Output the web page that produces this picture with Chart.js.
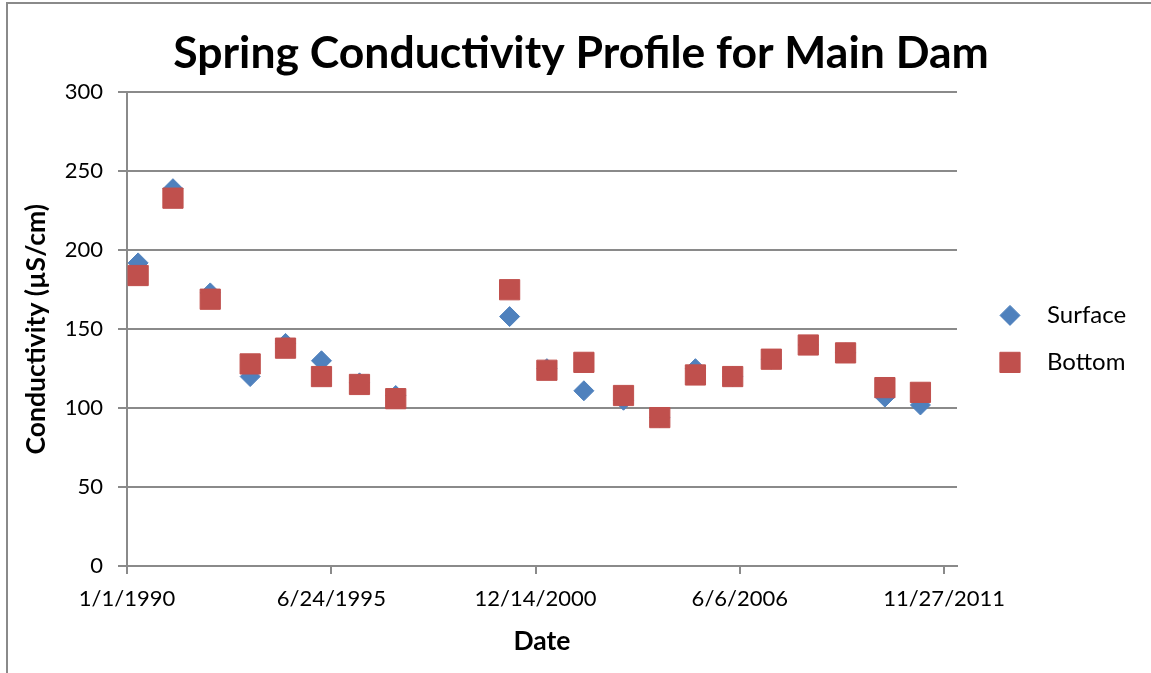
<!DOCTYPE html>
<html>
<head>
<meta charset="utf-8">
<title>Spring Conductivity Profile for Main Dam</title>
<script src="https://cdn.jsdelivr.net/npm/chart.js"></script>
<style>
  html, body { margin: 0; padding: 0; background: #fff; overflow: hidden; }
  #wrap { position: relative; width: 1151px; height: 673px; }
  #frame { position: absolute; left: 6px; top: 2px; width: 1200px; height: 700px;
           border-left: 2px solid #8a8a8a; border-top: 2px solid #8a8a8a; pointer-events: none; }
</style>
</head>
<body>
<div id="wrap">
  <canvas id="chartviewport" width="1151" height="673"></canvas>
  <div id="frame"></div>
</div>
<script>
// spring sampling dates (one per year, 1998-1999 missing)
const sampleDates = [
  '1990-04-20', '1991-03-27', '1992-03-26', '1993-04-21', '1994-04-02',
  '1995-03-20', '1996-03-26', '1997-03-16', '2000-04-04', '2001-04-04',
  '2002-04-01', '2003-04-24', '2004-04-13', '2005-03-28', '2006-03-28',
  '2007-04-10', '2008-04-06', '2009-04-06', '2010-04-26', '2011-04-09'
];
const surfaceValues = [192, 239, 173, 120, 141, 130, 116, 108, 158, 125, 111, 105, 94, 125, 120, 131, 140, 135, 107, 102];
const bottomValues  = [184, 233, 169, 128, 138, 120, 115, 106, 175, 124, 129, 108, 94, 121, 120, 131, 140, 135, 113, 110];

// x axis runs in days since 1/1/1990
const dateTickDays   = [0, 2000, 4000, 6000, 8000];
const dateTickLabels = ['1/1/1990', '6/24/1995', '12/14/2000', '6/6/2006', '11/27/2011'];
const dateAxisMax = 8126;
const yTicks = [0, 50, 100, 150, 200, 250, 300];

const FONT = 'Lato';
const AXIS_GREY = '#8a8a8a';

function toDays(s) {
    const p = s.split('-').map(Number);
    return (Date.UTC(p[0], p[1] - 1, p[2]) - Date.UTC(1990, 0, 1)) / 86400000;
}
function points(values) {
    return values.map((v, i) => ({ x: toDays(sampleDates[i]), y: v }));
}

// Excel style legend, added as a layout box on the right of the plot
const sideLegend = {
    id: 'sideLegend',
    beforeInit(chart) {
        const box = {
            position: 'right',
            weight: 1000,
            fullSize: false,
            options: {},
            top: 0, left: 0, right: 0, bottom: 0, width: 0, height: 0,
            isHorizontal() { return false; },
            update(maxWidth, maxHeight) { this.width = 194; this.height = maxHeight; },
            draw() {
                const ctx = chart.ctx;
                const area = chart.chartArea;
                const rows = [area.top + 223, area.top + 270];
                ctx.save();
                chart.data.datasets.forEach((ds, i) => {
                    const y = rows[i];
                    ctx.fillStyle = ds.backgroundColor;
                    ctx.strokeStyle = ds.borderColor;
                    ctx.lineWidth = ds.borderWidth;
                    Chart.helpers.drawPoint(ctx, { pointStyle: ds.pointStyle, radius: ds.pointRadius, rotation: 0, borderWidth: ds.borderWidth }, this.left + 53, y);
                    ctx.fillStyle = '#000';
                    ctx.font = '24px ' + FONT;
                    ctx.textBaseline = 'middle';
                    ctx.textAlign = 'left';
                    ctx.fillText(ds.label, this.left + 90, y);
                });
                ctx.restore();
            }
        };
        Chart.layouts.addBox(chart, box);
    }
};

const config = {
    type: 'scatter',
    data: {
        datasets: [{
            label: 'Surface',
            data: points(surfaceValues),
            pointStyle: 'rectRot',
            pointRadius: 10,
            pointHoverRadius: 10,
            backgroundColor: '#4F81BD',
            borderColor: '#4F81BD',
            borderWidth: 1,
            order: 1
        }, {
            label: 'Bottom',
            data: points(bottomValues),
            pointStyle: 'rect',
            pointRadius: 14.3,
            pointHoverRadius: 14.3,
            backgroundColor: '#C0504D',
            borderColor: '#C0504D',
            borderWidth: 1,
            order: 0
        }]
    },
    options: {
        responsive: false,
        devicePixelRatio: 1,
        animation: false,
        layout: { padding: { left: 11, right: 0, top: 0, bottom: 0 } },
        plugins: {
            legend: { display: false },
            tooltip: { enabled: false },
            title: {
                display: true,
                text: 'Spring Conductivity Profile for Main Dam',
                color: '#000',
                font: { family: FONT, size: 44.5, weight: 'bold' },
                padding: { top: 27, bottom: 12 }
            }
        },
        scales: {
            x: {
                type: 'linear',
                min: 0,
                max: dateAxisMax,
                afterBuildTicks: s => { s.ticks = dateTickDays.map(v => ({ value: v })); },
                afterFit: s => { s.height = 107; },
                ticks: {
                    color: '#000',
                    font: { family: FONT, size: 22 },
                    padding: 12,
                    maxRotation: 0,
                    autoSkip: false,
                    callback: v => dateTickLabels[dateTickDays.indexOf(v)]
                },
                grid: { drawOnChartArea: false, drawTicks: true, tickLength: 8, color: AXIS_GREY, lineWidth: 2 },
                border: { color: AXIS_GREY, width: 2 },
                title: {
                    display: true,
                    text: 'Date',
                    color: '#000',
                    font: { family: FONT, size: 26.5, weight: 'bold' },
                    padding: { top: 0, bottom: 16 }
                }
            },
            y: {
                min: 0,
                max: 300,
                afterBuildTicks: s => { s.ticks = yTicks.map(v => ({ value: v })); },
                afterFit: s => { s.width = 116; },
                ticks: {
                    color: '#000',
                    font: { family: FONT, size: 22 },
                    padding: 15
                },
                grid: { drawTicks: true, tickLength: 9, color: AXIS_GREY, lineWidth: 2 },
                border: { color: AXIS_GREY, width: 2 },
                title: {
                    display: true,
                    text: 'Conductivity (µS/cm)',
                    color: '#000',
                    font: { family: FONT, size: 26.5, weight: 'bold' },
                    padding: { top: 10, bottom: 0 }
                }
            }
        }
    },
    plugins: [sideLegend]
};

const chart = new Chart(document.getElementById('chartviewport'), config);
</script>
</body>
</html>
